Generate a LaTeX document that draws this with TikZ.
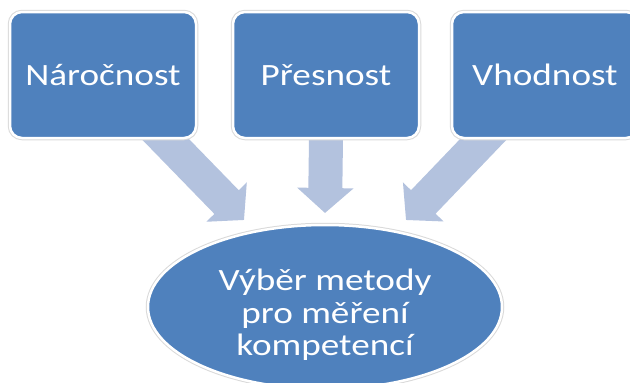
\documentclass[tikz,border=0pt]{standalone}
\usepackage{fontspec}
\setmainfont{Carlito}
\newfontfamily\smartfont[FakeStretch=1.2]{Carlito}
\usetikzlibrary{shapes.geometric,arrows.meta,calc}
\definecolor{boxblue}{HTML}{4F81BD}
\definecolor{arrowblue}{HTML}{B3C2DE}
\pgfdeclarelayer{bg}
\pgfsetlayers{bg,main}
\tikzset{
  card/.style={rectangle, rounded corners=12pt, minimum width=186pt, minimum height=126pt,
    fill=boxblue, draw=white, line width=2.5pt, text=white, inner sep=0pt,
    preaction={draw=black!15, line width=4.5pt},
    font=\smartfont\fontsize{31}{32.5}\selectfont},
  oval/.style={ellipse, minimum width=354pt, minimum height=164pt, inner sep=0pt,
    fill=boxblue, draw=white, line width=2.5pt, text=white, align=center,
    preaction={draw=black!15, line width=4.5pt},
    font=\smartfont\fontsize{31}{32.5}\selectfont},
  fatarrow/.style={draw=arrowblue, line width=34pt,
    -{Triangle[length=25pt, width=55pt, color=arrowblue]}}
}
\begin{document}
\begin{tikzpicture}[x=1pt, y=-1pt]
  \useasboundingbox (0,0) rectangle (630,383);
  \node[card] (n1) at (103,75) {Náročnost};
  \node[card] (n2) at (326,75) {Přesnost};
  \node[card] (n3) at (545,75) {Vhodnost};
  \node[oval] (res) at (325,307) {\raisebox{-16pt}[0pt][0pt]{\begin{tabular}{@{}c@{}}Výběr metody\\pro měření\\kompetencí\end{tabular}}};
  \coordinate (t1) at (244,220);
  \coordinate (t2) at (325,213);
  \coordinate (t3) at (406,220);
  \begin{pgfonlayer}{bg}
    \draw[fatarrow] (n1.center) -- (t1);
    \draw[fatarrow] (n2.center |- n2.south) -- (t2);
    \draw[fatarrow] (n3.center) -- (t3);
  \end{pgfonlayer}
\end{tikzpicture}
\end{document}
